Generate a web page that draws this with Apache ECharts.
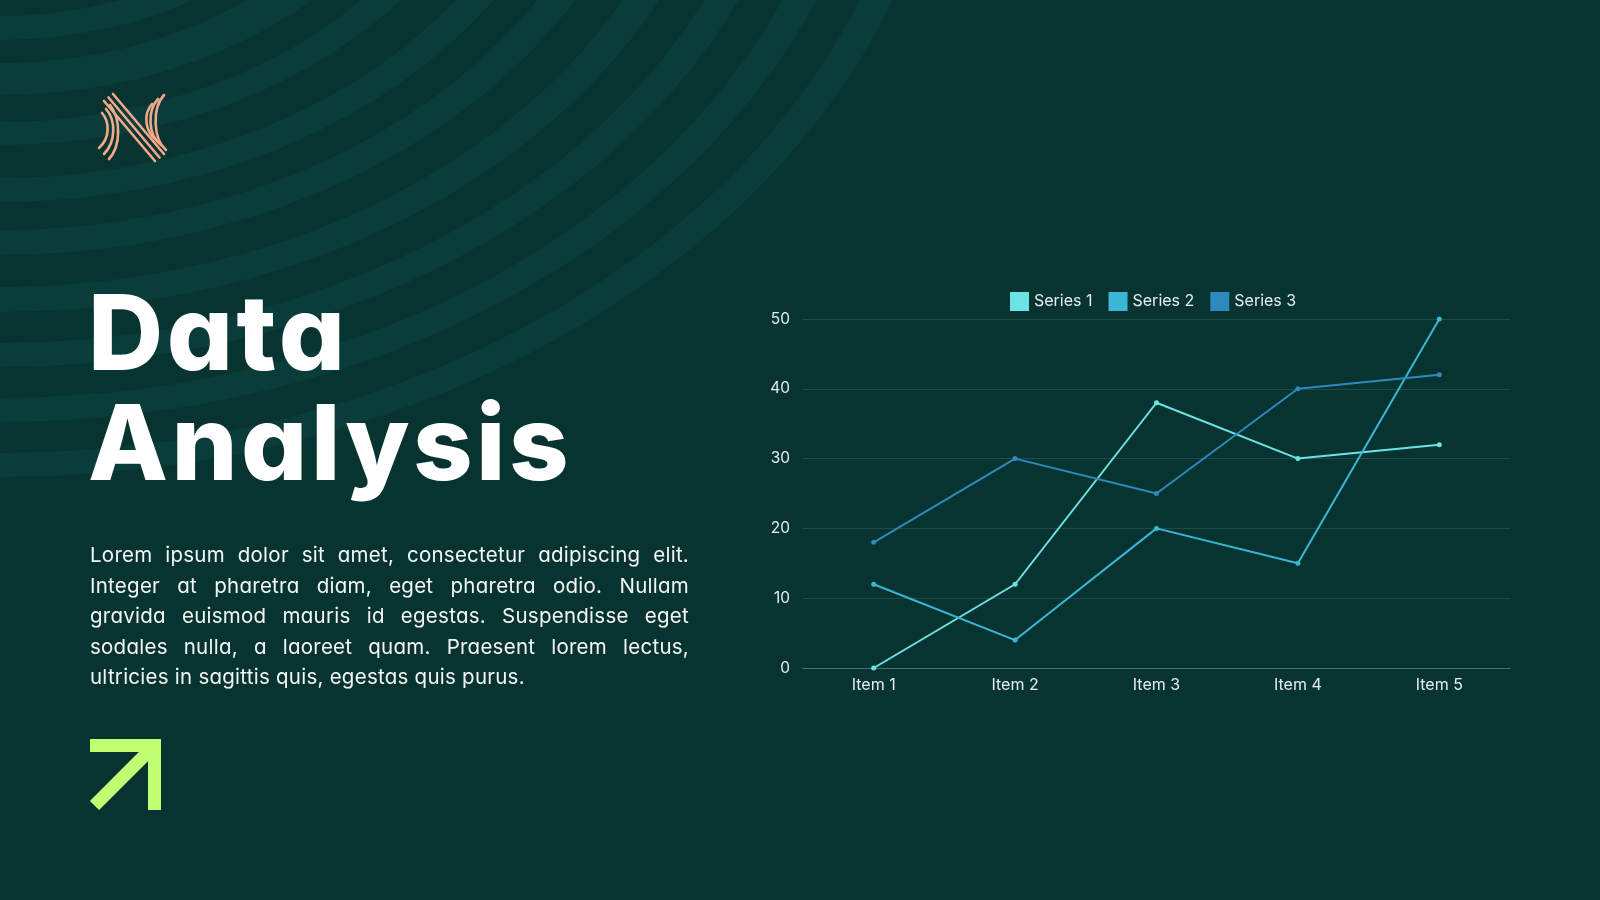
<!DOCTYPE html>
<html>
<head>
<meta charset="utf-8">
<script src="https://cdn.jsdelivr.net/npm/echarts@6/dist/echarts.min.js"></script>
<style>
  html, body { margin:0; padding:0; width:1600px; height:900px; overflow:hidden; background:#073431; }
  #chart { position:absolute; left:0; top:0; width:1600px; height:900px; }
  #overlay { position:absolute; left:0; top:0; width:1600px; height:900px; pointer-events:none; }
  .title { font-family: Inter, "Noto Sans", sans-serif; font-weight:800; font-feature-settings:"cv11" 1; }
  #para { position:absolute; left:90px; top:540px; width:599px; font-family: Inter, "Noto Sans", sans-serif;
          font-size:20.5px; letter-spacing:0.25px; line-height:30.6px; color:#f3f6f5; font-feature-settings:"cv11" 1; pointer-events:none; }
  #para div { text-align:justify; text-align-last:justify; white-space:normal; }
  #para div.last { text-align:left; text-align-last:left; }
</style>
</head>
<body>
<div id="chart"></div>
<svg id="overlay" width="1600" height="900" xmlns="http://www.w3.org/2000/svg">
  <g id="titleGroup"></g>
  <g fill="none" stroke="#f2a98a" stroke-width="2.6" stroke-linecap="round">
    <path d="M104 101 L155 161"/>
    <path d="M108.5 97.5 L159.5 157.5"/>
    <path d="M113 94 L164 154"/>
    <path d="M102 113 C110 122, 110 138, 99 148"/>
    <path d="M106 109 C116 120, 116 142, 104 154"/>
    <path d="M110 105 C121 119, 121 146, 109 159"/>
    <path d="M152 104 C143 114, 145 131, 156 140"/>
    <path d="M158 99 C147 111, 148 135, 161 145"/>
    <path d="M164 95 C152 108, 153 139, 166 150"/>
  </g>
  <g fill="none" stroke="#c1ff72" stroke-width="13" stroke-linejoin="miter" stroke-linecap="butt">
    <path d="M90 745.5 L154.5 745.5 L154.5 810"/>
    <path d="M152 748 L94.5 805.5"/>
  </g>
</svg>
<div id="para"></div>
<script>
// ---- data ----
const titleLines = ['Data', 'Analysis'];
const paragraphLines = [
  'Lorem ipsum dolor sit amet, consectetur adipiscing elit.',
  'Integer at pharetra diam, eget pharetra odio. Nullam',
  'gravida euismod mauris id egestas. Suspendisse eget',
  'sodales nulla, a laoreet quam. Praesent lorem lectus,',
  'ultricies in sagittis quis, egestas quis purus.'
];
const categories = ['Item 1', 'Item 2', 'Item 3', 'Item 4', 'Item 5'];
const seriesNames = ['Series 1', 'Series 2', 'Series 3'];
const series1 = [0, 12, 38, 30, 32];
const series2 = [12, 4, 20, 15, 50];
const series3 = [18, 30, 25, 40, 42];
const yMin = 0, yMax = 50, yStep = 10;

// ---- text overlay ----
const svgNS = 'http://www.w3.org/2000/svg';
const tg = document.getElementById('titleGroup');
const titleBaselines = [370, 480];
titleLines.forEach((t, i) => {
  const el = document.createElementNS(svgNS, 'text');
  el.setAttribute('x', 88);
  el.setAttribute('y', titleBaselines[i]);
  el.setAttribute('class', 'title');
  el.setAttribute('font-size', '104');
  el.setAttribute('letter-spacing', '3.5');
  el.setAttribute('fill', '#ffffff');
  el.textContent = t;
  tg.appendChild(el);
});
const para = document.getElementById('para');
paragraphLines.forEach((t, i) => {
  const d = document.createElement('div');
  if (i === paragraphLines.length - 1) d.className = 'last';
  d.textContent = t;
  para.appendChild(d);
});

// ---- background rings (decoration, elliptical bands around the top-left) ----
const ringCenterY = -256;
const ringStretchX = 1.3;
const ringBands = [[272,296],[319,351],[378,401],[434,458],[486,511],[543,568],[599,623],[654,678],[709,733]];

const colors = ['#6be3e5', '#3bb6d7', '#2e89bc'];
const font = 'Inter, "Noto Sans", sans-serif';

const chart = echarts.init(document.getElementById('chart'), null, { renderer: 'canvas' });
const dataSets = [series1, series2, series3];
chart.setOption({
  backgroundColor: '#073431',
  textStyle: { fontFamily: font },
  graphic: {
    elements: ringBands.map(b => ({
      type: 'ring', silent: true, z: -10,
      x: 0, y: 0, scaleX: ringStretchX, scaleY: 1, originX: 0, originY: 0,
      shape: { cx: 0, cy: ringCenterY, r: b[1], r0: b[0] },
      style: { fill: '#0a3c3a' }
    }))
  },
  legend: {
    data: seriesNames,
    left: 1005, top: 287,
    icon: 'rect', itemWidth: 19, itemHeight: 19, itemGap: 16,
    textStyle: { color: '#e8efee', fontSize: 16, fontFamily: font }
  },
  grid: { left: 803, right: 90, top: 319, bottom: 232, containLabel: false, outerBoundsMode: 'none' },
  xAxis: {
    type: 'category', data: categories, boundaryGap: true,
    axisLine: { show: true, lineStyle: { color: '#4a716d', width: 1.2 } },
    axisTick: { show: false },
    axisLabel: { color: '#e6eeed', fontSize: 16, margin: 9, fontFamily: font },
    splitLine: { show: false }
  },
  yAxis: {
    type: 'value', min: yMin, max: yMax, interval: yStep,
    axisLine: { show: false }, axisTick: { show: false },
    axisLabel: { color: '#e6eeed', fontSize: 15.5, margin: 13, fontFamily: font },
    splitLine: { lineStyle: { color: '#1d4b47', width: 1 } }
  },
  series: dataSets.map((d, i) => ({
    name: seriesNames[i], type: 'line', data: d,
    symbol: 'circle', symbolSize: 5, showSymbol: true,
    lineStyle: { color: colors[i], width: 2 },
    itemStyle: { color: colors[i] },
    emphasis: { disabled: true },
    animation: false
  })),
  animation: false
});
</script>
</body>
</html>
